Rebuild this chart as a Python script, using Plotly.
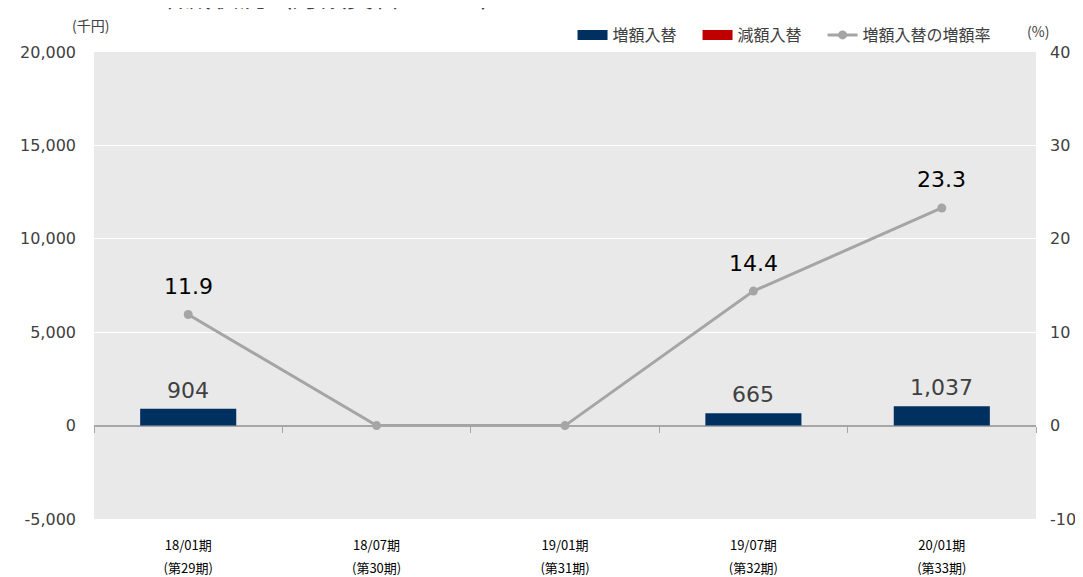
import plotly.graph_objects as go

# 期別データ
periods = ["18/01期", "18/07期", "19/01期", "19/07期", "20/01期"]
terms = ["(第29期)", "(第30期)", "(第31期)", "(第32期)", "(第33期)"]
increase = [904, 0, 0, 665, 1037]          # 増額入替（千円）
decrease = [None, None, None, None, None]  # 減額入替（千円）
increase_rate = [11.9, 0, 0, 14.4, 23.3]   # 増額入替の増額率（%）

left_ticks = [-5000, 0, 5000, 10000, 15000, 20000]
right_ticks = [-10, 0, 10, 20, 30, 40]

num_font = "DejaVu Sans"
jp_font = "Noto Sans CJK JP"
blue = "#00305F"
red = "#C00000"
gray = "#A5A5A5"
pad = "\u3000"  # 凡例の間隔調整用

fig = go.Figure()

# 増額入替（0の棒は描かない）
fig.add_trace(go.Bar(
    x=periods, y=[v if v else None for v in increase], name="増額入替",
    marker=dict(color=blue, line=dict(width=0)), width=0.51,
    showlegend=False, legendgroup="inc",
))

# 減額入替
fig.add_trace(go.Bar(
    x=periods, y=decrease, name="減額入替",
    marker=dict(color=red, line=dict(width=0)), width=0.51,
    showlegend=False, legendgroup="dec",
))

# 凡例用（横長の四角に見せる）
fig.add_trace(go.Scatter(x=[None], y=[None], name="増額入替" + pad, mode="lines",
                         line=dict(color=blue, width=10), legendgroup="inc"))
fig.add_trace(go.Scatter(x=[None], y=[None], name="減額入替" + pad, mode="lines",
                         line=dict(color=red, width=10), legendgroup="dec"))

# 増額入替の増額率
fig.add_trace(go.Scatter(
    x=periods, y=increase_rate, name="増額入替の増額率",
    mode="lines+markers",
    line=dict(color=gray, width=3),
    marker=dict(color=gray, size=9),
    xaxis="x2", yaxis="y2",
))

# 棒のラベル（0は非表示）
for p, v in zip(periods, increase):
    if v:
        fig.add_annotation(x=p, y=v, xref="x", yref="y", text=f"{v:,}",
                           showarrow=False, yanchor="bottom", yshift=4,
                           font=dict(family=num_font, size=22, color="#404040"))

# 増額率のラベル（0は非表示）
for p, v in zip(periods, increase_rate):
    if v:
        fig.add_annotation(x=p, y=v, xref="x2", yref="y2", text=f"{v:.1f}",
                           showarrow=False, yshift=28,
                           font=dict(family=num_font, size=22, color="#000000"))

fig.update_layout(
    width=1075, height=569,
    margin=dict(l=86, r=47, t=44, b=58, autoexpand=False),
    plot_bgcolor="#E9E9E9",
    paper_bgcolor="#FFFFFF",
    barmode="relative",
    font=dict(family=jp_font, color="#404040"),
    xaxis=dict(
        type="category", categoryarray=periods, range=[-0.5, 4.5],
        anchor="free", position=0.2, automargin=False,
        showgrid=False,
        showline=True, linecolor="#A6A6A6", linewidth=1,
        ticks="outside", tickson="boundaries", ticklen=6, tickcolor="#A6A6A6",
        tickfont=dict(family=jp_font, size=13, color="#000000"),
        ticklabelstandoff=108,
    ),
    xaxis2=dict(
        type="category", categoryarray=periods, range=[-0.5, 4.5],
        overlaying="x", anchor="y", automargin=False,
        tickmode="array", tickvals=periods, ticktext=terms,
        showgrid=False, showline=False, ticks="",
        tickfont=dict(family=jp_font, size=13, color="#000000"),
        ticklabelstandoff=40,
    ),
    yaxis=dict(
        range=[-5000, 20000], automargin=False,
        tickmode="array", tickvals=left_ticks,
        ticktext=[f"{v:,}" for v in left_ticks],
        showgrid=True, gridcolor="#FFFFFF", gridwidth=1,
        zeroline=True, zerolinecolor="#A6A6A6", zerolinewidth=1,
        tickfont=dict(family=num_font, size=16, color="#404040"),
        ticks="", ticklabelstandoff=17,
    ),
    yaxis2=dict(
        range=[-10, 40], automargin=False,
        tickmode="array", tickvals=right_ticks,
        ticktext=[str(v) for v in right_ticks],
        overlaying="y", side="right", anchor="x",
        showgrid=False, zeroline=False,
        tickfont=dict(family=num_font, size=16, color="#404040"),
        ticks="", ticklabelstandoff=13,
    ),
    legend=dict(
        orientation="h", x=0.508, xanchor="left", y=1.0, yanchor="bottom",
        font=dict(family=jp_font, size=16, color="#404040"),
        traceorder="normal",
        bgcolor="rgba(0,0,0,0)",
    ),
    showlegend=True,
)

# 単位表示
fig.add_annotation(xref="x domain", yref="y domain", x=-0.004, y=1.058,
                   xanchor="center", yanchor="middle", text="(千円)", showarrow=False,
                   font=dict(family=jp_font, size=14, color="#404040"))
fig.add_annotation(xref="x domain", yref="y domain", x=1.002, y=1.045,
                   xanchor="center", yanchor="middle", text="(%)", showarrow=False,
                   font=dict(family=jp_font, size=14, color="#404040"))

# 見出し（上端で切れている）
fig.add_annotation(xref="x domain", yref="y domain", x=-0.0065, y=1.075,
                   xanchor="left", yanchor="bottom", showarrow=False,
                   text="<span style='color:#E8B4B8'>■</span>\u3000\u2002増減状況（月額賃料ベース）",
                   font=dict(family=jp_font, size=27, color="#404040"))

fig.write_html("out.html")
